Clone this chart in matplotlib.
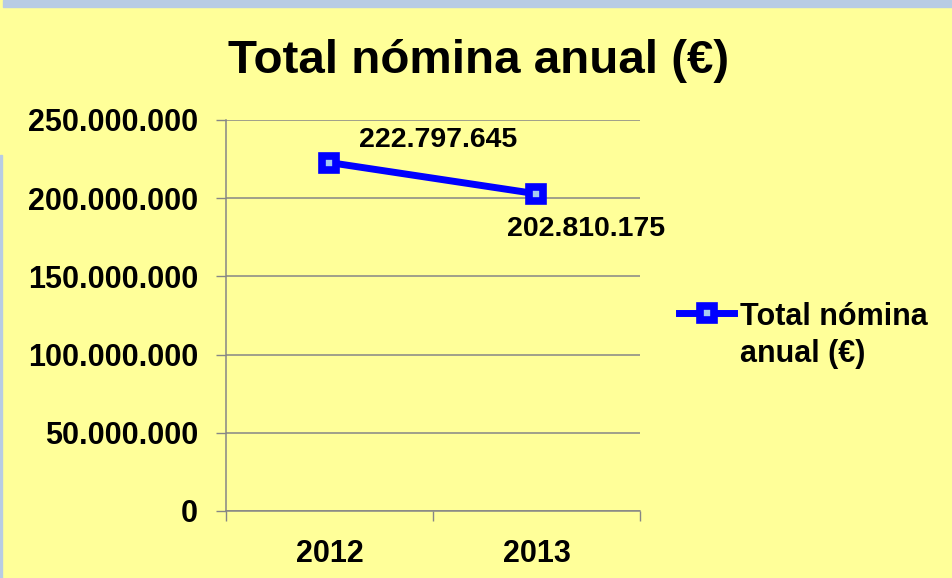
import matplotlib
matplotlib.use("Agg")
import matplotlib.pyplot as plt
from matplotlib.patches import Rectangle
from matplotlib.ticker import FuncFormatter

# data
years = ["2012", "2013"]
nomina = [222797645, 202810175]
series_label = "Total nómina\nanual (€)"
title = "Total nómina anual (€)"

YELLOW = "#FFFF99"
BLUE = "#0000FF"
GRID = "#868686"

plt.rcParams["font.family"] = ["Liberation Sans", "DejaVu Sans"]
plt.rcParams["font.weight"] = "bold"

W, H = 953, 578
fig = plt.figure(figsize=(W / 100, H / 100), dpi=100, facecolor=YELLOW)

# slide frame strips
fig.patches.append(Rectangle((3 / W, 1 - 7 / H), 1, 7 / H, transform=fig.transFigure,
                             color="#B8CCE4", zorder=0))
fig.patches.append(Rectangle((0, 0), 2.5 / W, 1 - 155 / H, transform=fig.transFigure,
                             color="#B8CCE4", zorder=0))

ax = fig.add_axes([226 / W, 67 / H, 414 / W, 391 / H])
ax.set_facecolor("none")

x = list(range(len(years)))
ax.plot(x, nomina, color=BLUE, linewidth=5, marker="s", markersize=10,
        markeredgewidth=5.5, markeredgecolor=BLUE, markerfacecolor="#A6CAF0",
        label=series_label, zorder=3, solid_joinstyle="round")

ax.set_xlim(-0.5, len(years) - 0.5)
ax.set_ylim(0, 250_000_000)
ax.set_yticks(range(0, 250_000_001, 50_000_000))
ax.yaxis.set_major_formatter(FuncFormatter(lambda v, p: f"{int(v):,}".replace(",", ".")))
ax.grid(axis="y", color=GRID, linewidth=1.1)
ax.set_axisbelow(True)

# category boundaries as major ticks, names as minor ticks
ax.set_xticks([i - 0.5 for i in range(len(years) + 1)])
ax.set_xticklabels([])
ax.set_xticks(x, minor=True)
ax.set_xticklabels(years, minor=True, fontsize=22, fontweight="bold")
ax.tick_params(axis="x", which="major", length=7, width=1, color=GRID)
ax.tick_params(axis="x", which="minor", length=0, pad=20)
ax.tick_params(axis="y", length=7, width=1, color=GRID, labelsize=22, pad=13)
for lab in ax.get_yticklabels():
    lab.set_fontweight("bold")

for side in ("top", "right"):
    ax.spines[side].set_visible(False)
for side in ("left", "bottom"):
    ax.spines[side].set_color(GRID)
    ax.spines[side].set_linewidth(1.1)

# data labels
offsets = [(109, 16), (50, -42)]
for xi, v, off in zip(x, nomina, offsets):
    ax.annotate(f"{v:,}".replace(",", "."), (xi, v), xytext=off,
                textcoords="offset pixels", ha="center", va="baseline",
                fontsize=20.5, fontweight="bold")

fig.text(479 / W, 1 - 73 / H, title, ha="center", va="baseline",
         fontsize=34.2, fontweight="bold")

leg = ax.legend(loc="upper left", bbox_to_anchor=(679 / W, 1 - 302 / H),
                bbox_transform=fig.transFigure, frameon=False,
                handlelength=1.8, handletextpad=0.2, borderaxespad=0, borderpad=0,
                prop={"weight": "bold", "size": 22})
for t in leg.get_texts():
    t.set_linespacing(1.3)
# put the handle next to the first text line, like the original
for col in leg._legend_handle_box.get_children():
    for row in col.get_children():
        row.align = "top"

fig.savefig("out.png", dpi=100, facecolor=YELLOW)
